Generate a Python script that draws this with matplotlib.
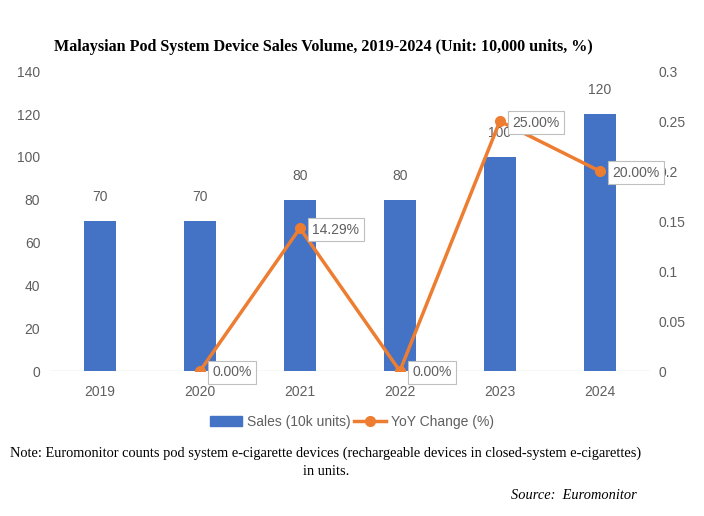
import numpy as np
import matplotlib.pyplot as plt
from matplotlib.patches import Patch
from matplotlib.lines import Line2D

years = ['2019', '2020', '2021', '2022', '2023', '2024']
sales = [70, 70, 80, 80, 100, 120]
yoy = [np.nan, 0.0, 0.1429, 0.0, 0.25, 0.20]
yoy_labels = ['', '0.00%', '14.29%', '0.00%', '25.00%', '20.00%']

blue = '#4472C4'
orange = '#ED7D31'
gray = '#5f5f5f'

fig = plt.figure(figsize=(7.04, 5.16), dpi=100)
ax = fig.add_axes([0.071, 0.281, 0.852, 0.581])
ax2 = ax.twinx()

x = np.arange(len(years))
ax.bar(x, sales, width=0.32, color=blue, zorder=2)
for xi, v in zip(x, sales):
    ax.annotate(str(v), (xi, v), xytext=(0, 12), textcoords='offset points',
                ha='center', va='bottom', fontsize=10, color=gray,
                family='Liberation Sans')

ax.set_xlim(-0.5, 5.5)
ax.set_ylim(0, 140)
ax.set_yticks(np.arange(0, 141, 20))
ax.set_xticks(x)
ax.set_xticklabels(years)

ax2.plot(x, yoy, color=orange, lw=2.5, marker='o', ms=7, zorder=3)
ax2.set_ylim(0, 0.3)
ax2.set_yticks([0, 0.05, 0.1, 0.15, 0.2, 0.25, 0.3])
ax2.set_yticklabels(['0', '0.05', '0.1', '0.15', '0.2', '0.25', '0.3'])
for xi, v, lab in zip(x, yoy, yoy_labels):
    if lab:
        ax2.annotate(lab, (xi, v), xytext=(9, -1), textcoords='offset points',
                     ha='left', va='center', fontsize=10, color=gray,
                     family='Liberation Sans',
                     bbox=dict(boxstyle='square,pad=0.3', fc='white', ec='#BFBFBF', lw=0.8),
                     zorder=5)

for a in (ax, ax2):
    for s in a.spines.values():
        s.set_visible(False)
    a.tick_params(length=0, labelsize=10, labelcolor=gray)
    for t in a.get_xticklabels() + a.get_yticklabels():
        t.set_family('Liberation Sans')
ax.tick_params(axis='x', pad=10)
ax.tick_params(axis='y', pad=7)
ax2.tick_params(axis='y', pad=6)
ax.axhline(0, color='#D9D9D9', lw=1, zorder=1)

handles = [Patch(color=blue, label='Sales (10k units)'),
           Line2D([], [], color=orange, lw=2.5, marker='o', ms=7, label='YoY Change (%)')]
fig.legend(handles=handles, loc='center', bbox_to_anchor=(0.5, 0.182), ncol=2,
           frameon=False, handlelength=2.3, handletextpad=0.3, columnspacing=0.3,
           prop={'family': 'Liberation Sans', 'size': 10}, labelcolor=gray)

fig.text(0.46, 0.909, 'Malaysian Pod System Device Sales Volume, 2019-2024 (Unit: 10,000 units, %)',
         ha='center', va='center', fontsize=11.6, fontweight='bold', family='Liberation Serif')
fig.text(0.463, 0.122, 'Note: Euromonitor counts pod system e-cigarette devices (rechargeable devices in closed-system e-cigarettes)',
         ha='center', va='center', fontsize=10.4, family='Liberation Serif')
fig.text(0.463, 0.087, 'in units.', ha='center', va='center', fontsize=10.4, family='Liberation Serif')
fig.text(0.905, 0.039, 'Source:  Euromonitor', ha='right', va='center', fontsize=10.4,
         style='italic', family='Liberation Serif')

fig.savefig('out.png', dpi=100)
